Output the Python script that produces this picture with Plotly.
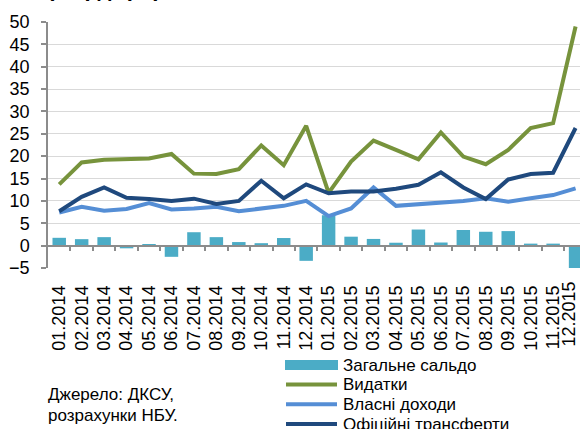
import plotly.graph_objects as go

categories = ["01.2014", "02.2014", "03.2014", "04.2014", "05.2014", "06.2014",
              "07.2014", "08.2014", "09.2014", "10.2014", "11.2014", "12.2014",
              "01.2015", "02.2015", "03.2015", "04.2015", "05.2015", "06.2015",
              "07.2015", "08.2015", "09.2015", "10.2015", "11.2015", "12.2015"]

balance = [1.75, 1.45, 1.9, -0.6, 0.3, -2.5, 3.0, 1.9, 0.8, 0.55, 1.7, -3.4,
           6.8, 2.0, 1.5, 0.65, 3.6, 0.7, 3.5, 3.1, 3.25, 0.45, 0.45, -5.6]
expenditures = [13.7, 18.6, 19.2, 19.3, 19.5, 20.5, 16.1, 16.0, 17.1, 22.4, 18.0, 26.8,
                11.8, 18.8, 23.5, 21.4, 19.3, 25.3, 19.9, 18.2, 21.4, 26.3, 27.4, 49.0]
own_revenues = [7.4, 8.7, 7.8, 8.2, 9.5, 8.1, 8.3, 8.7, 7.7, 8.2, 8.9, 10.0,
                6.6, 8.3, 13.0, 8.9, 9.3, 9.5, 10.0, 10.6, 9.8, 10.6, 11.3, 12.8]
transfers = [7.7, 10.9, 13.0, 10.7, 10.4, 10.0, 10.5, 9.3, 10.0, 14.5, 10.6, 13.7,
             11.7, 12.1, 12.1, 12.7, 13.6, 16.4, 13.0, 10.4, 14.8, 16.0, 16.3, 26.3]

names = ["Загальне сальдо", "Видатки", "Власні доходи", "Офіційні трансферти"]
colors = ["#4BACC6", "#77933C", "#558ED5", "#1F497D"]
y_ticks = list(range(-5, 55, 5))
title_text = "(млрд грн)"
source_lines = ["Джерело: ДКСУ,", "розрахунки НБУ."]

W, H = 580, 429
ML, MR, MT, MB = 48, 0, 22, 161
PW, PH = W - ML - MR, H - MT - MB
FONT = "Liberation Sans, Arial, sans-serif"
AXC = "#8C8C8C"

def px(xp):
    return (xp - ML) / PW

def py(yp):
    return (MT + PH - yp) / PH

n = len(categories)
xs = list(range(n))
xr = [-0.5, -0.5 + PW / 22.45]

fig = go.Figure()
fig.add_trace(go.Bar(x=xs, y=balance, name=names[0], marker_color=colors[0],
                     marker_line_width=0, showlegend=False, cliponaxis=False,
                     width=0.6))
for vals, nm, col in [(expenditures, names[1], colors[1]),
                      (own_revenues, names[2], colors[2]),
                      (transfers, names[3], colors[3])]:
    fig.add_trace(go.Scatter(x=xs, y=vals, name=nm, mode="lines",
                             line=dict(color=col, width=4), showlegend=False))
# helper axis carrying the category-boundary ticks along the zero line
fig.add_trace(go.Scatter(x=[None], y=[None], xaxis="x2", yaxis="y",
                         showlegend=False, hoverinfo="skip"))

fig.update_layout(
    width=W, height=H,
    margin=dict(l=ML, r=MR, t=MT, b=MB, pad=0),
    paper_bgcolor="white", plot_bgcolor="white",
    font=dict(family=FONT, size=18, color="#000000"),
    xaxis=dict(type="linear", autorange=False, range=xr,
               tickmode="array", tickvals=xs[:-1], ticktext=categories[:-1],
               showgrid=False, zeroline=False, showline=False, ticks="",
               tickangle=-90, tickfont=dict(size=18), ticklabelstandoff=13),
    xaxis2=dict(type="linear", overlaying="x", anchor="free",
                position=(0 - y_ticks[0]) / (y_ticks[-1] - y_ticks[0]),
                autorange=False, range=xr, showgrid=False, zeroline=False,
                showline=True, linecolor=AXC, linewidth=1.5, ticks="outside",
                ticklen=5, tickwidth=1.5, tickcolor=AXC, showticklabels=False,
                tickmode="array", tickvals=[i + 0.5 for i in range(n - 1)]),
    yaxis=dict(range=[y_ticks[0], y_ticks[-1]], autorange=False,
               tickmode="array", tickvals=y_ticks,
               showgrid=True, gridcolor="#D9D9D9", gridwidth=1, zeroline=False,
               showline=True, linecolor=AXC, linewidth=1.5, ticks="outside",
               ticklen=5, tickwidth=1.5, tickcolor=AXC, tickfont=dict(size=18),
               ticklabelstandoff=8),
)

annotations = [
    dict(text="<b>" + title_text + "</b>", xref="paper", yref="paper",
         x=px(45), y=py(3), xanchor="left", yanchor="bottom", showarrow=False,
         font=dict(size=22, family=FONT, color="#000000")),
    # last category label, kept inside the page edge
    dict(text=categories[-1], xref="paper", yref="paper", x=1.0, y=py(280),
         xanchor="right", yanchor="top", textangle=-90, showarrow=False,
         font=dict(size=18, family=FONT, color="#000000")),
]
for i, line in enumerate(source_lines):
    annotations.append(dict(text=line, xref="paper", yref="paper",
                            x=px(46), y=py(395 + 20 * i), xanchor="left",
                            yanchor="middle", showarrow=False,
                            font=dict(size=17, family=FONT, color="#000000")))

shapes = []
leg_y = [365, 384.5, 404.3, 424]
for i, (nm, col) in enumerate(zip(names, colors)):
    yc = leg_y[i]
    if i == 0:
        shapes.append(dict(type="rect", xref="paper", yref="paper",
                           x0=px(285), x1=px(338), y0=py(yc - 5), y1=py(yc + 5),
                           fillcolor=col, line=dict(width=0)))
    else:
        shapes.append(dict(type="line", xref="paper", yref="paper",
                           x0=px(286), x1=px(337), y0=py(yc), y1=py(yc),
                           line=dict(color=col, width=4)))
    annotations.append(dict(text=nm, xref="paper", yref="paper", x=px(341),
                            y=py(yc), xanchor="left", yanchor="middle",
                            showarrow=False,
                            font=dict(size=17, family=FONT, color="#000000")))

fig.update_layout(annotations=annotations, shapes=shapes)

post = (
    "document.documentElement.style.overflow='hidden';"
    "document.body.style.margin='0';"
    "document.body.style.overflow='hidden';"
)
fig.write_html("out.html", config={"displayModeBar": False}, post_script=post)
